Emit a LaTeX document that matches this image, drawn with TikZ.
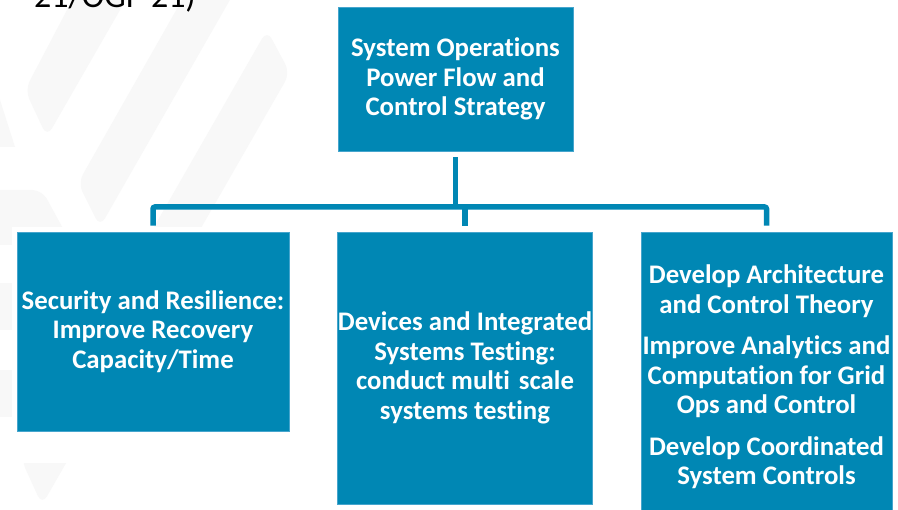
\documentclass[tikz,border=0pt]{standalone}
\usepackage{fontspec}
\setmainfont[Ligatures=NoCommon]{Carlito}
\definecolor{boxblue}{RGB}{0,135,180}
\definecolor{boxedge}{RGB}{70,165,205}
\definecolor{bandgray}{RGB}{248,248,248}
\tikzset{
  pbox/.style={draw=boxedge, line width=0.8pt, fill=boxblue, text=white,
    font=\bfseries\fontsize{26.8}{29.5}\selectfont, align=center, inner sep=0pt},
  conn/.style={draw=boxblue, line width=5.5pt, line cap=butt},
  band/.style={fill=bandgray, draw=none, rounded corners=10pt}
}
\begin{document}
\begin{tikzpicture}[x=1pt,y=-1pt]
\useasboundingbox (0,0) rectangle (898,510);
\clip (0,0) rectangle (898,510);
\fill[white] (0,0) rectangle (898,510);
% faint background bands
\fill[band] (88,-30) -- (143,-30) -- (47,137) -- (25,90) -- cycle;
\fill[band] (199,-30) -- (247,-30) -- (100,227) -- (78,183) -- cycle;
\fill[band] (267,30) -- (290,73) -- (42,505) -- (21,459) -- cycle;
\fill[bandgray] (0,100) -- (15,147) -- (0,147) -- cycle;
\fill[band] (-20,190) -- (42,190) -- (72,245) -- (-20,245) -- cycle;
\fill[bandgray] (0,283) rectangle (12,330);
\fill[bandgray] (0,370) rectangle (12,417);
\fill[white] (12,227) rectangle (898,463);
% partial heading at the top
\node[anchor=base west, inner sep=0pt, font=\fontsize{34}{40}\selectfont, text=black] (head) at (34,8) {21/OGP 21)};
% boxes
\node[pbox, minimum width=235pt, minimum height=144pt] (top) at (455.5,79)
  {System Operations\\Power Flow and\\Control Strategy};
\node[pbox, minimum width=272pt, minimum height=199pt] (left) at (153,331.5)
  {Security and Resilience:\\Improve Recovery\\Capacity/Time};
\node[pbox, minimum width=254pt, minimum height=272pt] (mid) at (465,368)
  {Devices and Integrated\\Systems Testing:\\conduct multi\kern3pt\ scale\\systems testing};
\node[pbox, minimum width=251pt, minimum height=290pt] (right) at (766.5,377)
  {Develop Architecture\\and Control Theory\\[12pt]Improve Analytics and\\Computation for Grid\\Ops and Control\\[12pt]Develop Coordinated\\System Controls};
% connectors
\coordinate (bar) at (456,207);
\draw[conn] ([yshift=-6pt]top.south) -- (top.south |- bar);
\draw[conn, rounded corners=2pt] ([yshift=6pt]left.north) |- (bar) -| ([yshift=6pt]right.north);
\draw[conn] (mid.north |- bar) -- ([yshift=6pt]mid.north);
\end{tikzpicture}
\end{document}
